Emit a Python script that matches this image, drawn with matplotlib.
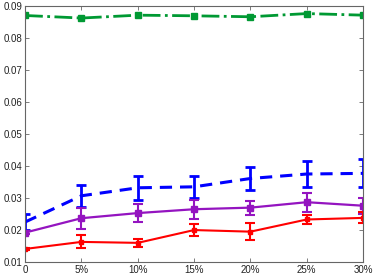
import matplotlib
matplotlib.use("Agg")
import matplotlib.pyplot as plt

plt.rcParams['font.family'] = ['Liberation Sans', 'DejaVu Sans']

# 横轴：噪声比例
x_labels = ['0', '5%', '10%', '15%', '20%', '25%', '30%']
x = [0, 5, 10, 15, 20, 25, 30]

# 各方法的均值与误差
green_y = [0.0870, 0.0862, 0.0871, 0.0869, 0.0866, 0.0876, 0.0871]
green_err = [0.0002, 0.0002, 0.0002, 0.0002, 0.0002, 0.0002, 0.0002]

blue_y = [0.0225, 0.0307, 0.0332, 0.0335, 0.0361, 0.0375, 0.0377]
blue_err = [0.0025, 0.0034, 0.0037, 0.0035, 0.0036, 0.0040, 0.0044]

purple_y = [0.0192, 0.0237, 0.0253, 0.0265, 0.0270, 0.0287, 0.0276]
purple_err = [0.0005, 0.0033, 0.0028, 0.0030, 0.0022, 0.0030, 0.0025]

red_y = [0.0141, 0.0163, 0.0160, 0.0200, 0.0195, 0.0233, 0.0238]
red_err = [0.0004, 0.0020, 0.0012, 0.0020, 0.0027, 0.0014, 0.0017]

y_ticks = [0.01, 0.02, 0.03, 0.04, 0.05, 0.06, 0.07, 0.08, 0.09]

fig = plt.figure(figsize=(3.74, 2.8), dpi=100)
ax = fig.add_axes([0.067, 0.064, 0.904, 0.915])

green = '#009933'
purple = '#9414c0'

ax.errorbar(x, green_y, yerr=green_err, color=green, ls='-.', lw=2.0,
            marker='s', ms=4.5, capsize=0, elinewidth=1.5)
ax.errorbar(x, blue_y, yerr=blue_err, color='#0000ff', ls='--', lw=2.2,
            capsize=3.5, elinewidth=2.0, capthick=2.0, dashes=(4, 2.6))
ax.errorbar(x, purple_y, yerr=purple_err, color=purple, ls='-', lw=1.6,
            marker='s', ms=4, capsize=3.5, elinewidth=1.5, capthick=1.5)
ax.errorbar(x, red_y, yerr=red_err, color='#ff0000', ls='-', lw=1.5,
            marker='s', ms=2.5, capsize=3.5, elinewidth=1.5, capthick=1.5)

ax.set_xlim(0, 30)
ax.set_ylim(0.01, 0.09)
ax.set_xticks(x)
ax.set_xticklabels(x_labels)
ax.set_yticks(y_ticks)
ax.set_yticklabels(['%.2f' % v for v in y_ticks])

for s in ax.spines.values():
    s.set_color('#666666')
    s.set_linewidth(0.8)
ax.tick_params(direction='in', length=3, width=0.6, color='#666666',
               labelsize=7, labelcolor='#222222', top=True, right=True, pad=2)

fig.savefig('out.png', dpi=100)
